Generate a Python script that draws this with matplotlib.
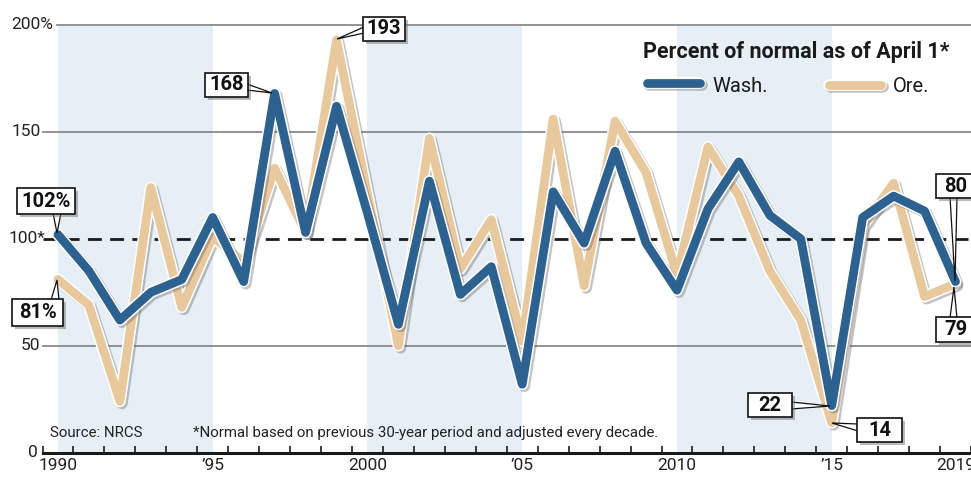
import matplotlib
matplotlib.use("Agg")
import matplotlib.pyplot as plt
import matplotlib.patheffects as pe
from matplotlib.patches import Rectangle, Polygon
from matplotlib.lines import Line2D
from matplotlib import font_manager

names = {f.name for f in font_manager.fontManager.ttflist}
NARROW = 'Liberation Sans Narrow' if 'Liberation Sans Narrow' in names else 'Roboto'
plt.rcParams['font.family'] = [NARROW, 'DejaVu Sans']

# ---------------- data ----------------
years = list(range(1990, 2020))
wash = [102, 85, 62, 75, 81, 110, 80, 168, 103, 162,
        112, 60, 127, 74, 87, 32, 122, 98, 141, 98,
        76, 114, 136, 111, 100, 22, 110, 120, 113, 80]
ore = [81, 69, 24, 124, 68, 101, 89, 133, 103, 193,
       121, 50, 147, 86, 109, 52, 156, 78, 155, 131,
       83, 143, 120, 85, 62, 14, 106, 126, 73, 79]
x_tick_years = [1990, 1995, 2000, 2005, 2010, 2015, 2019]
x_tick_labels = ['1990', '\u201995', '2000', '\u201905', '2010', '\u201915', '2019']
y_grid = [0, 50, 150, 200]
y_labels = {200: '200%', 150: '150', 100: '100*', 50: '50', 0: '0'}
shade_spans = [(1990, 1995), (2000, 2005), (2010, 2015)]

WASH_C = '#2d6190'
ORE_C = '#e8c89d'
SHADE_C = '#e6eff5'

W, H = 971, 490
fig = plt.figure(figsize=(W / 100, H / 100), dpi=100)
bottom_px = 452.7
ax = fig.add_axes([42.5 / W, (H - bottom_px) / H, 1 - 42.5 / W, bottom_px / H])
ax.set_xlim(1989.5, 2019.5)
ymax = bottom_px / 2.1385
ax.set_ylim(0, ymax)
for s in ['top', 'right', 'left']:
    ax.spines[s].set_visible(False)
ax.spines['bottom'].set_linewidth(2.2)
ax.spines['bottom'].set_color('#1a1a1a')
ax.set_yticks([])
ax.set_xticks(x_tick_years)
ax.set_xticklabels(x_tick_labels, fontsize=12.5, color='#222222')
ax.tick_params(axis='x', which='major', length=0, pad=4)
ax.set_xticks([y - 0.5 for y in range(1990, 2021)], minor=True)
ax.tick_params(axis='x', which='minor', direction='in', length=5, width=1.2, color='#1a1a1a')
ax.patch.set_alpha(0)

for a, b in shade_spans:
    ax.fill_between([a, b], 0, 200, color=SHADE_C, zorder=0, lw=0)

def px2x(p):
    return 1989.5 + (p - 42.5) / 30.95

for g in y_grid:
    start = px2x(57) if g == 200 else px2x(43)
    ax.plot([start, 2019.5], [g, g], color='#8a8a8a', lw=1.3, zorder=1, clip_on=False)
ax.plot([px2x(43), 2019.5], [100, 100], color='#1a1a1a', lw=2.0, ls=(0, (5, 3)), zorder=1.5, clip_on=False)

label_right = {200: 53, 150: 41, 100: 45, 50: 40, 0: 38}
for v, t in y_labels.items():
    ax.text(px2x(label_right[v]), v, t, ha='right', va='center', fontsize=12.5,
            color='#222222', clip_on=False)

def line_fx(lw):
    return [pe.SimpleLineShadow(offset=(1.5, -1.5), shadow_color='#555555', alpha=0.35, linewidth=lw + 2),
            pe.Stroke(linewidth=lw + 2.2, foreground='white'),
            pe.Normal()]

LW = 6.3
ax.plot(years, ore, color=ORE_C, lw=LW, solid_joinstyle='round', solid_capstyle='round',
        path_effects=line_fx(LW), zorder=3, clip_on=False)
ax.plot(years, wash, color=WASH_C, lw=LW, solid_joinstyle='round', solid_capstyle='round',
        path_effects=line_fx(LW), zorder=4, clip_on=False)

# ---------- figure-pixel helpers (y measured from top) ----------
def fp(x, y):
    return (x, H - y)

def callout(text, box, tail, target):
    x0, y0, x1, y1 = box
    tri = Polygon([fp(*tail[0]), fp(*tail[1]), fp(*target)], closed=True,
                  transform=None, fc='white', ec='#111111', lw=0.9, zorder=10)
    fig.patches.append(tri)
    r = Rectangle(fp(x0, y1), x1 - x0, y1 - y0, transform=None, fc='white', ec='#111111',
                  lw=1.2, zorder=11,
                  path_effects=[pe.SimplePatchShadow(offset=(2, -2), shadow_rgbFace='#777777', alpha=0.5),
                                pe.Normal()])
    fig.patches.append(r)
    cx, cy = fp((x0 + x1) / 2, (y0 + y1) / 2)
    fig.text(cx / W, cy / H, text, ha='center', va='center', fontsize=14.5,
             fontweight='bold', color='#111111', zorder=12)

callout('102%', (17, 188, 75, 214), [(53, 213), (61, 213)], (57, 233))
callout('81%', (12, 299, 63, 326), [(51, 300), (59, 300)], (57, 280))
callout('168', (205, 73, 248, 97), [(247, 84), (247, 90)], (272, 93))
callout('193', (363, 17, 405, 41), [(364, 27), (364, 33)], (337, 39))
callout('22', (748, 393, 792, 417), [(791, 402), (791, 409)], (830, 406))
callout('14', (857, 418, 902, 442), [(858, 424), (858, 431)], (832, 423))
callout('80', (936, 174, 975, 198), [(950, 197), (957, 197)], (955, 281))
callout('79', (936, 317, 975, 342), [(950, 318), (957, 318)], (954, 287))

# ---------- legend ----------
tx, ty = fp(796, 52)
fig.text(tx / W, ty / H, 'Percent of normal as of April 1*', ha='center', va='center',
         fontsize=15.5, fontweight='bold', color='#1a1a1a')
for (xa, xb, yy, col, lab, lx) in [(647, 700, 83, WASH_C, 'Wash.', 712), (829, 881, 85, ORE_C, 'Ore.', 893)]:
    l = Line2D([xa, xb], [H - yy, H - yy], transform=None, color=col, lw=LW,
               solid_capstyle='round', path_effects=line_fx(LW), zorder=10)
    fig.lines.append(l)
    fig.text(lx / W, (H - 86) / H, lab, ha='left', va='center', fontsize=14.5, color='#1a1a1a')

# ---------- notes ----------
fig.text(50 / W, (H - 433) / H, 'Source: NRCS', ha='left', va='center', fontsize=10.8, color='#222222')
fig.text(193 / W, (H - 433) / H, '*Normal based on previous 30-year period and adjusted every decade.',
         ha='left', va='center', fontsize=10.8, color='#222222')

fig.savefig('out.png', dpi=100)
